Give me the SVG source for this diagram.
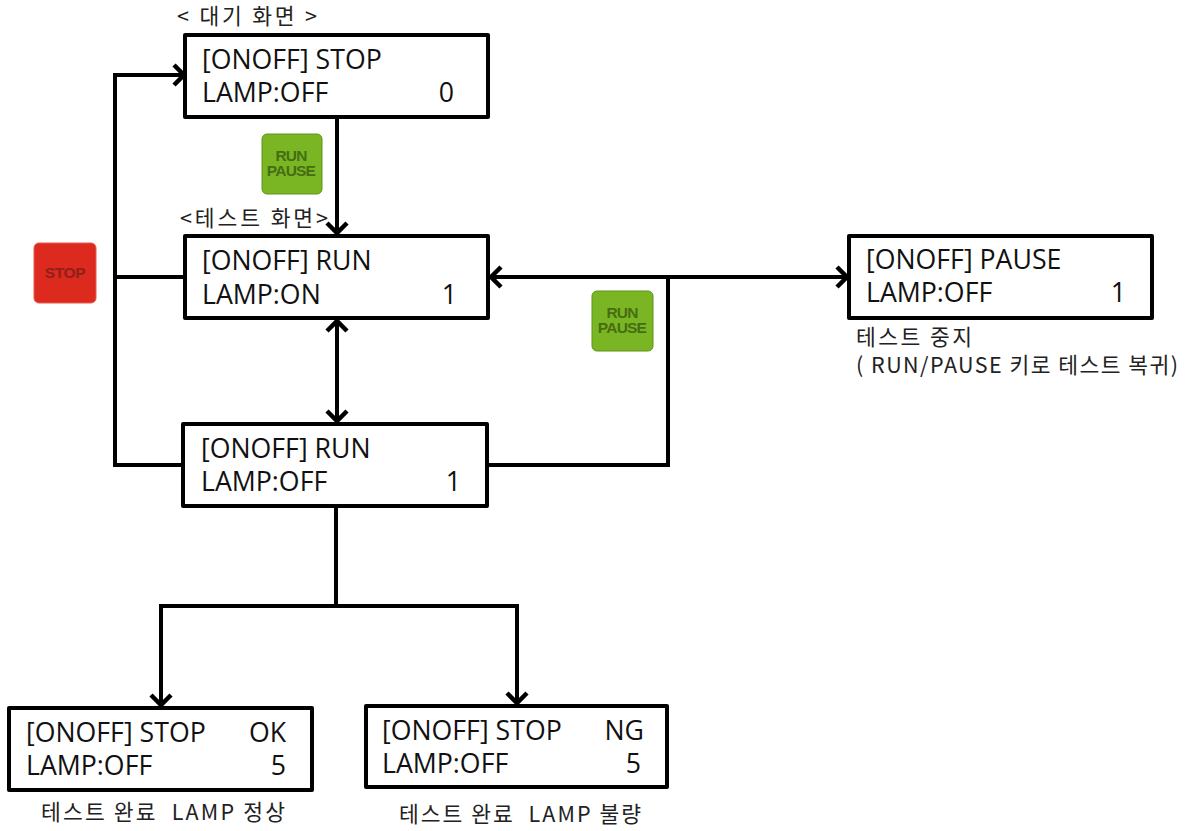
<svg xmlns="http://www.w3.org/2000/svg" width="1190" height="831" viewBox="0 0 1190 831">
<style>
.box{fill:#fff;stroke:#000;stroke-width:4;stroke-linejoin:round}
.t{font-family:"Open Sans","Noto Sans CJK KR",sans-serif;font-size:26.7px;fill:#111}
.k{font-family:"Noto Sans CJK KR","Noto Sans",sans-serif;font-size:21.5px;fill:#222}
.c{fill:none;stroke:#000;stroke-width:4;stroke-linejoin:miter}
.b{font-family:"Liberation Sans",sans-serif;font-size:15.5px;font-weight:bold;text-anchor:middle;letter-spacing:-.8px}
.e{text-anchor:end}
</style>
<defs>
<marker id="a" markerUnits="userSpaceOnUse" viewBox="0 0 24 24" refX="21" refY="12" markerWidth="24" markerHeight="24" orient="auto-start-reverse">
<path d="M10 2 L20 12 L10 22" fill="none" stroke="#000" stroke-width="4.5"/>
</marker>
</defs>
<g id="connectors">
<path class="c" d="M185 465H115V75H185" marker-end="url(#a)"/>
<path class="c" d="M185 277H115"/>
<path class="c" d="M337 117V234" marker-end="url(#a)"/>
<path class="c" d="M337 320V422" marker-start="url(#a)" marker-end="url(#a)"/>
<path class="c" d="M490 277H848" marker-start="url(#a)" marker-end="url(#a)"/>
<path class="c" d="M668 277V465H487"/>
<path class="c" d="M336 506V606"/>
<path class="c" d="M161 706V606H517V704" marker-start="url(#a)" marker-end="url(#a)"/>
</g>
<g id="label-standby"><text class="k" x="177" y="24" textLength="140">&lt; 대기 화면 &gt;</text></g>
<g id="node-standby">
<rect class="box" x="185" y="35" width="303" height="82"/>
<text class="t" x="202" y="69">[ONOFF] STOP</text>
<text class="t" x="202" y="102">LAMP:OFF</text>
<text class="t e" x="454" y="102">0</text>
</g>
<g id="btn-run1">
<rect x="262" y="134" width="60" height="60" rx="5" fill="#7ab623" stroke="#5f9418"/>
<text class="b" x="291" y="161" fill="#466d14">RUN</text>
<text class="b" x="291" y="176" fill="#466d14">PAUSE</text>
</g>
<g id="label-test"><text class="k" x="180" y="226" textLength="148">&lt;테스트 화면&gt;</text></g>
<g id="node-run-on">
<rect class="box" x="185" y="236" width="303" height="82"/>
<text class="t" x="202" y="270">[ONOFF] RUN</text>
<text class="t" x="202" y="304">LAMP:ON</text>
<text class="t e" x="457" y="304">1</text>
</g>
<g id="btn-stop">
<rect x="34" y="243" width="62" height="60" rx="5" fill="#dc2a1e" stroke="#e8584e"/>
<text class="b" x="65" y="278" fill="#8f1f18" style="letter-spacing:-.4px">STOP</text>
</g>
<g id="node-run-off">
<rect class="box" x="183" y="424" width="304" height="82"/>
<text class="t" x="201" y="458">[ONOFF] RUN</text>
<text class="t" x="201" y="491">LAMP:OFF</text>
<text class="t e" x="461" y="491">1</text>
</g>
<g id="btn-run2">
<rect x="592" y="291" width="61" height="60" rx="5" fill="#7ab623" stroke="#5f9418"/>
<text class="b" x="622" y="318" fill="#466d14">RUN</text>
<text class="b" x="622" y="333" fill="#466d14">PAUSE</text>
</g>
<g id="node-pause">
<rect class="box" x="849" y="236" width="303" height="82"/>
<text class="t" x="866" y="269">[ONOFF] PAUSE</text>
<text class="t" x="866" y="302">LAMP:OFF</text>
<text class="t e" x="1126" y="302">1</text>
</g>
<g id="label-pause">
<text class="k" x="856" y="345" textLength="116">테스트 중지</text>
<text class="k" x="856" y="373" textLength="322">( RUN/PAUSE 키로 테스트 복귀)</text>
</g>
<g id="node-ok">
<rect class="box" x="9" y="708" width="303" height="82"/>
<text class="t" x="26" y="742">[ONOFF] STOP</text>
<text class="t" x="26" y="775">LAMP:OFF</text>
<text class="t e" x="286" y="742">OK</text>
<text class="t e" x="286" y="775">5</text>
</g>
<g id="label-ok"><text class="k" x="41" y="820" textLength="244" xml:space="preserve">테스트 완료  LAMP 정상</text></g>
<g id="node-ng">
<rect class="box" x="366" y="706" width="301" height="81"/>
<text class="t" x="382" y="740">[ONOFF] STOP</text>
<text class="t" x="382" y="773">LAMP:OFF</text>
<text class="t e" x="644" y="740">NG</text>
<text class="t e" x="641" y="773">5</text>
</g>
<g id="label-ng"><text class="k" x="399" y="822" textLength="242" xml:space="preserve">테스트 완료  LAMP 불량</text></g>
</svg>
